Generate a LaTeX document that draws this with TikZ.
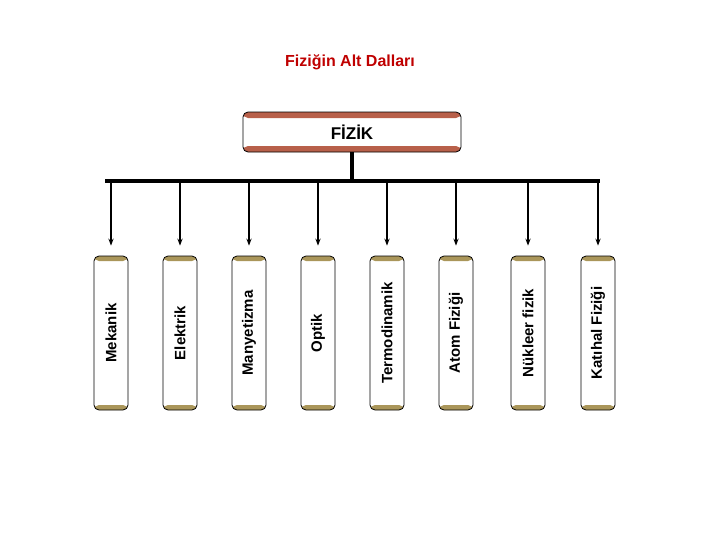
\documentclass[tikz,border=0pt]{standalone}
\usepackage{fontspec}
\setmainfont{Liberation Sans}
\usepackage{tikz}
\usetikzlibrary{arrows.meta}

\definecolor{bandred}{RGB}{184,96,74}
\definecolor{bandgold}{RGB}{170,150,90}

\begin{document}
\begin{tikzpicture}[x=1pt, y=-1pt, thick,
  root/.style = {draw, rounded corners=5pt, minimum width=218pt, minimum height=40pt,
    font=\bfseries\fontsize{17}{19}\selectfont,
    path picture={\fill[bandred] (path picture bounding box.north west) rectangle ([yshift=-6pt]path picture bounding box.north east);
                  \fill[bandred] (path picture bounding box.south west) rectangle ([yshift=6pt]path picture bounding box.south east);}},
  branch/.style = {draw, rounded corners=5pt, minimum width=34pt, minimum height=154pt,
    path picture={\fill[bandgold] (path picture bounding box.north west) rectangle ([yshift=-5pt]path picture bounding box.north east);
                  \fill[bandgold] (path picture bounding box.south west) rectangle ([yshift=5pt]path picture bounding box.south east);}},
  label/.style = {rotate=90, font=\bfseries\fontsize{15}{17}\selectfont}]
\useasboundingbox (0,0) rectangle (728,546);

\node[text=red!75!black, font=\bfseries\fontsize{16}{18}\selectfont] (title) at (350,62) {Fiziğin Alt Dalları};
\node[root] (fizik) at (352,132) {FİZİK};

\coordinate (left) at (105,181);
\coordinate (right) at (600,181);
\draw[line width=3.5pt] (left) -- (right);
\draw[line width=3.5pt] (fizik.south) -- (352,181);

\foreach \x/\name/\lbl in {111/mek/Mekanik, 180/elk/Elektrik, 249/man/Manyetizma, 318/opt/Optik,
    387/ter/Termodinamik, 456/atm/Atom Fiziği, 528/nuk/Nükleer fizik, 598/kat/Katıhal Fiziği} {
  \node[branch] (\name) at (\x,333) {};
  \node[label] (\name text) at (\name) {\lbl};
  \coordinate (\name top) at (\x,181);
  \draw[-{Stealth[length=7pt]}, line width=1.2pt, shorten >=10pt] (\name top) -- (\name.north);
}
\end{tikzpicture}
\end{document}
